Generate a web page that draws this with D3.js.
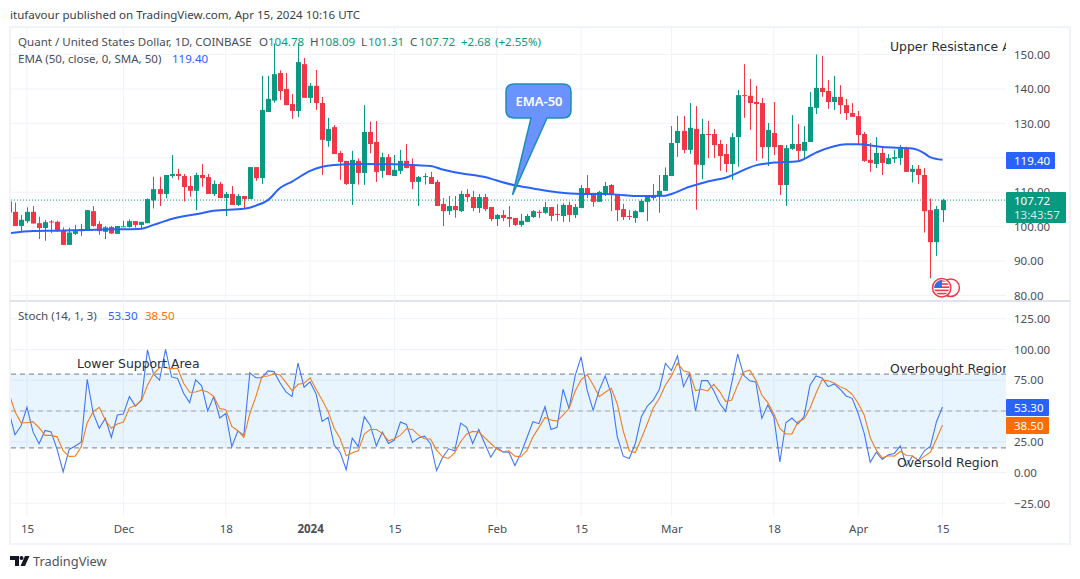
<!DOCTYPE html>
<html>
<head>
<meta charset="utf-8">
<script src="https://cdn.jsdelivr.net/npm/d3@7"></script>
<style>
  html, body { margin: 0; padding: 0; background: #fff; }
  svg { display: block; }
  text { font-family: "Noto Sans", sans-serif; }
  text.anno { font-family: "DejaVu Sans", sans-serif; }
</style>
</head>
<body>
<svg id="chart" width="1080" height="579"></svg>
<script>
// open, high, low, close, one row per day from 12 Nov 2023
const candles = [
  // Nov
  [107.3,108,103,104.1],[104.3,107,100.2,100.2],[100.2,103.4,98.4,102],[101.6,105.6,101,104.3],[104.3,106,100.9,100.9],
  [101,102.9,96.4,99.6],[99.6,101.9,95.9,101.3],[101.5,101.9,98.1,101.3],[101.4,101.7,98.5,98.7],[99,99.8,94.7,94.7],
  [94.7,99.7,94.7,98.3],[97.9,100.5,97.6,98.7],[98.7,100.8,97.3,99.3],[98.8,104.8,98.8,104.8],[104.5,106,100,100.2],
  [100.8,101.6,97.6,98.7],[98.5,100.2,96.4,99.8],[99.9,100.2,97.9,98],[97.9,100.2,97.9,100.2],
  // Dec
  [100,101.7,100,100.1],[99.9,102.1,99.7,101.6],[101.6,101.6,99.7,100.5],[100.5,101.4,99.2,101.4],[101,108.2,101,108],
  [107.6,114.5,105.3,110.9],[110.9,114.5,106,109.5],[109.5,115,108.2,115],[114.7,120.8,114.1,115.3],[115.3,116.8,113.6,114.7],
  [114.7,115.3,107.3,111.5],[111.8,114.7,108.7,110.4],[110.4,115.7,104.8,115],[115,118.2,111.6,114.1],[114.4,115.3,109.5,109.5],
  [109.5,113.4,108.9,112.4],[112.4,113,108.3,108.3],[108.3,110.1,103.1,109.5],[109.5,111.8,106.3,106.3],[106.3,109.5,106,108.9],
  [108.9,108.9,105.2,108],[108,117.3,108,117.3],[117.3,117.3,113.3,114.1],[114.1,143.8,112.4,133.9],[133.3,143.8,133.3,137.1],
  [136.6,153.2,136,144.3],[144.6,145.4,136.8,139.4],[140,144.6,135.3,135.3],[135.6,138.5,131.3,133.6],[133.6,153.2,131.8,147.8],
  [147.2,149,137.4,137.4],
  // Jan
  [137.4,141.7,135.9,140.9],[140.9,145.5,133.9,135.9],[135.9,137.7,115,125.2],[124.9,131.6,123.2,128.4],[128.9,129.5,121.1,121.1],
  [121.4,122,113.6,118.8],[119.1,119.1,112.1,112.4],[112.4,122,106.3,119.4],[119.1,119.8,112.2,115.6],[115.6,135.3,112.1,127.5],
  [127.5,130.5,121.3,124],[124.6,130.7,113,115.9],[116.2,121.5,114.2,120.2],[120.2,121.1,115,115],[114.7,120.8,114.7,116.5],
  [116.2,122.3,115.3,119.1],[119.1,124,117,117],[117.8,119.8,110.9,113],[113,114.7,106,114.4],[114.5,115.5,112.2,114.7],
  [114.4,115.9,112.4,112.4],[113,113.6,106,106],[106.6,108.3,100.2,104.5],[104.5,108.9,103.4,106],[106,108.9,102.6,104.8],
  [104.5,110.4,104.2,109.5],[109.5,110.9,107.2,108.6],[108.6,110.4,104.5,105.4],[105.4,109.5,104,108.6],[108.6,109.5,104.5,105.1],
  [105.7,105.7,101.6,102.2],
  // Feb
  [102.2,103.7,100.2,103.4],[103.4,104.8,101.6,102.5],[102.8,106,99.9,102.2],[102.5,102.5,100.2,100.5],[100.5,103.7,99.9,101.7],
  [101.4,103.7,101.3,103.1],[102.8,104.8,102.5,104.5],[104.3,104.8,102.5,104.1],[104,107.2,103.7,105.7],[105.7,105.7,101.6,103.1],
  [103.7,106.5,101.6,103.5],[103.1,106.8,101.4,106.3],[106.3,107.2,101.4,103.4],[103.4,106.6,102.5,105.7],[105.4,112.1,105.4,111.2],
  [111.2,115,108.3,109.5],[109.8,109.8,105.8,107.2],[107.2,110.4,107.2,110.1],[109.5,113,108.9,111.8],[112.1,112.4,104.5,109.2],
  [109.5,109.5,101.6,104.8],[105.1,106.6,101.9,102.8],[103.1,104.8,101.9,102.9],[102.5,104.8,101.1,104.5],[104.2,108,104.2,107.5],
  [107.2,109.2,101.6,108.6],[108.3,112.4,107.7,109.2],[108.9,115,104,110.4],[110.4,117.2,110.4,115],
  // Mar
  [114.7,129.2,114.7,124.3],[124.3,132.2,120.3,127.8],[127.8,132.2,121.3,122.3],[122.3,135.9,121.1,128.7],[128.4,135,104.9,118],
  [117.9,131.3,113.8,126.9],[126.9,130.7,119.9,126.6],[126.9,128.3,119.9,123.7],[124,125.2,116.2,120.5],[121.1,124,115.8,118.2],
  [118.2,127.2,113.6,126],[126,139.7,117.4,138.2],[138.2,147.2,131.6,138],[138,142.9,128.1,135.9],[136.2,140.9,119.1,135.6],
  [135.9,137.4,119.8,123.1],[123.1,130.1,117.6,128.1],[127.2,136.2,120.8,123.1],[123.7,123.7,109.2,112.1],[112.1,123.7,106,122.8],
  [122.6,132.4,122.3,124],[124,129.8,119.1,122],[122,129.2,119.9,124.6],[124.6,139.1,124.6,134.8],[134.5,150,132.7,140.3],
  [140.3,149.6,137.7,139.1],[139.4,142.6,134.2,136.2],[136.2,143.8,133.9,137.7],[137.7,141.1,132.7,135.3],[135.3,137.1,131,133],
  [133,135.9,131.9,131.9],
  // Apr
  [132.1,133.6,123.7,126.6],[126.9,127.5,118.8,119.1],[119.4,124.3,115.9,118.5],[118.2,126,117,121.4],[121.4,123.4,115,118.5],
  [118.2,121.1,118.1,119.9],[119.7,122.3,118.5,120.2],[119.9,123.7,117.9,122.6],[122.8,123.2,115.9,115.9],[115.9,117.9,112.8,116.8],
  [116.8,117.9,112.4,115],[115,117,98.3,104.5],[104.8,108.2,85,95.5],[95.5,106,91.5,105.1],[104.78,108.09,101.31,107.72]
]

const stochK = [
  49.5,30.7,37.8,53,33,23.4,34.2,33,18.8,0.5,18.8,21.5,24.7,75.8,48,36,44,28.5,46.7,
  47.5,61.7,54,59,99.7,80,75,100,77.7,76.4,64.4,56.8,75.3,70.4,50,61.7,44.3,48,21,33.7,30.4,81,77,77,82.6,82,73,65.5,61.7,88.9,69.3,
  73.6,63.9,41.6,44.8,22.3,16.3,2.4,28,21,45.4,38.3,21.7,32.9,23.6,26.4,41,39.1,24.5,28,29.6,23.4,1.6,12.2,19.3,17.7,40.2,36.7,23.6,35,23.6,12.5,
  20.4,16.8,16.6,5.7,15.5,28.3,41.3,39.7,53.5,35,36.7,67.7,52,78.5,94,67,50.5,67,78.5,63.9,29,13.3,11.4,23.6,45.4,54,59,67.7,88.6,
  82.9,94.8,69.8,80,50,74.7,74.7,66.6,56.3,49.7,72.6,96.2,79,74.5,73.6,44,54.9,45.4,8.7,40.5,44.3,39.4,45.4,70.9,78.5,76.9,69.8,72,67.7,62.2,60.3,
  48,31.8,8.4,16.6,10.6,14.4,15.5,21.7,5.4,13.3,10,17.7,21.5,41.3,53.3
]
const stochD = [
  64.4,49.5,40.5,40.5,41.3,36.4,30.2,30.2,29,17.7,13,13.3,21,40.5,49.5,53,42.7,36,39.4,
  41,52.4,54.6,58.4,71,80,85.3,85.3,84.2,84.8,72.5,65.2,65.5,67,65.5,61.7,52,51,37.5,34,28.5,48,61.7,78,78.5,80.4,79.3,73,66.6,71.7,72.5,
  77,67.7,59,49.5,36,27.4,13.6,16,17.7,31.3,35,35,31.8,25.8,27.4,30.4,35.6,35,30.4,27.4,27.2,18.2,12.8,11.4,16,25,31.3,33.4,32.9,28.3,23.6,
  19,16.8,17.7,13.3,12.8,17.7,29,36.7,44.8,42.7,41.8,46.7,52,66,75.3,79.6,71.2,61.7,65.2,68.5,55.7,33.7,17.7,16.3,27.7,39.9,52.7,60.3,71.2,
  78.5,88.9,82.6,81.3,66.6,67.7,66.3,71.7,65.8,57.6,59,71.2,81.8,83.2,75.3,63,56.8,47.6,35.9,31.3,31.3,41.3,43.5,52.2,64.4,75.3,74.5,72.8,69.8,67.7,63.6,
  56.3,46.7,28.5,18.2,12,13.6,13.3,17.1,13.9,13.6,9.5,13.3,16.6,27.2,38.5
]

// EMA 50, read at the points where the line bends
const ema = [
  ['2023-11-12',98.07],['2023-11-16',98.74],['2023-11-20',98.84],['2023-11-25',99.03],['2023-11-30',99.23],['2023-12-04',99.42],
  ['2023-12-06',100.5],['2023-12-09',102.2],['2023-12-14',103.9],['2023-12-16',104.6],['2023-12-21',105.2],['2023-12-23',106.1],
  ['2023-12-25',107.7],['2023-12-27',111.2],['2023-12-29',113.1],['2024-01-01',116.2],['2024-01-03',117.4],['2024-01-05',117.9],
  ['2024-01-09',118.2],['2024-01-15',118.1],['2024-01-18',117.9],['2024-01-21',117.6],['2024-01-23',116.6],['2024-01-26',115.5],
  ['2024-01-30',114.4],['2024-02-01',113.4],['2024-02-04',112],['2024-02-07',111.1],['2024-02-11',110],['2024-02-15',109.5],
  ['2024-02-19',109.5],['2024-02-21',109.3],['2024-02-24',108.9],['2024-02-29',109],['2024-03-01',109.5],['2024-03-04',111.6],
  ['2024-03-05',112.1],['2024-03-07',113.1],['2024-03-10',114.2],['2024-03-15',117.8],['2024-03-18',118.6],['2024-03-22',119],
  ['2024-03-25',121.5],['2024-03-30',123.9],['2024-04-01',123.9],['2024-04-05',123.1],['2024-04-10',122.7],['2024-04-12',121.3],
  ['2024-04-13',120.1],['2024-04-15',119.4]
]

const UP = '#089981', DOWN = '#F23645', BLUE = '#2962FF', ORANGE = '#FF6D00'
const GRID = '#f0f3fa', LABEL = '#4a4e5a', ANNO = '#2a2e39'
const fontSize = 11.55
const axisX = 1006
const parseDay = d3.utcParse('%Y-%m-%d')
const days = d3.utcDay.range(parseDay('2023-11-12'), parseDay('2024-04-16'))

const x = d3.scaleUtc().domain([parseDay('2023-11-15'), parseDay('2024-04-15')]).range([27, 942.5])
const yPrice = d3.scaleLinear().domain([80, 150]).range([295.5, 54.5])
const yStoch = d3.scaleLinear().domain([-25, 125]).range([503.3, 318.7])
// candles sit on whole pixels so the wicks stay sharp
const xBar = i => Math.round(x(days[i])) + 0.5

const svg = d3.select('#chart')
const defs = svg.append('defs')
defs.append('clipPath').attr('id', 'paneTop').append('rect').attr('x', 11).attr('y', 28).attr('width', axisX - 11).attr('height', 272)
defs.append('clipPath').attr('id', 'paneBottom').append('rect').attr('x', 11).attr('y', 302).attr('width', axisX - 11).attr('height', 215)
defs.append('clipPath').attr('id', 'flagClip').append('circle').attr('cx', 941.7).attr('cy', 287.7).attr('r', 7.5)

// frame and pane separator
svg.append('rect').attr('x', 10).attr('y', 27).attr('width', 1060).attr('height', 517)
  .attr('fill', 'none').attr('stroke', GRID).attr('stroke-width', 2)
svg.append('line').attr('x1', 10).attr('x2', 1070).attr('y1', 301).attr('y2', 301)
  .attr('stroke', '#e0e3eb').attr('stroke-width', 2)

// time grid + axis
const timeTicks = [
  ['2023-11-15','15'],['2023-12-01','Dec'],['2023-12-18','18'],['2024-01-01','2024'],['2024-01-15','15'],['2024-02-01','Feb'],
  ['2024-02-15','15'],['2024-03-01','Mar'],['2024-03-18','18'],['2024-04-01','Apr'],['2024-04-15','15']
]
const tickNames = new Map(timeTicks.map(d => [+parseDay(d[0]), d[1]]))
const xAxis = d3.axisBottom(x)
  .tickValues(timeTicks.map(d => parseDay(d[0])))
  .tickSize(0)
  .tickPadding(8)
  .tickFormat(d => tickNames.get(+d))
const gx = svg.append('g').attr('transform', 'translate(0, 517)').call(xAxis)
gx.select('.domain').remove()
gx.selectAll('text').attr('font-size', fontSize).attr('fill', LABEL)
  .attr('font-weight', d => tickNames.get(+d) === '2024' ? 'bold' : null)

svg.append('g').selectAll('line').data(timeTicks).join('line')
  .attr('x1', d => x(parseDay(d[0]))).attr('x2', d => x(parseDay(d[0])))
  .attr('y1', 28).attr('y2', 517)
  .attr('stroke', GRID)

// price pane, 120 sits under the EMA tag so it gets no label
const priceTicks = d3.range(80, 151, 10)
svg.append('g').selectAll('line').data(priceTicks).join('line')
  .attr('x1', 11).attr('x2', axisX).attr('y1', d => yPrice(d)).attr('y2', d => yPrice(d))
  .attr('stroke', GRID)

const yAxisPrice = d3.axisRight(yPrice).tickValues(priceTicks.filter(d => d !== 120)).tickSize(0).tickPadding(8).tickFormat(d3.format('.2f'))
const gp = svg.append('g').attr('transform', `translate(${axisX}, 0)`).call(yAxisPrice)
gp.select('.domain').remove()
gp.selectAll('text').attr('font-size', fontSize).attr('fill', LABEL)

const topPane = svg.append('g').attr('clip-path', 'url(#paneTop)')

// last price line
topPane.append('line').attr('x1', 11).attr('x2', axisX)
  .attr('y1', yPrice(107.72)).attr('y2', yPrice(107.72))
  .attr('stroke', UP).attr('stroke-dasharray', '1 2')

const bars = topPane.append('g').selectAll('g').data(candles).join('g')
bars.append('line')
  .attr('x1', (d, i) => xBar(i)).attr('x2', (d, i) => xBar(i))
  .attr('y1', d => yPrice(d[1])).attr('y2', d => yPrice(d[2]))
  .attr('stroke', d => d[3] >= d[0] ? UP : DOWN)
bars.append('rect')
  .attr('x', (d, i) => xBar(i) - 2.5)
  .attr('width', 5)
  .attr('y', d => yPrice(Math.max(d[0], d[3])))
  .attr('height', d => Math.max(1, Math.abs(yPrice(d[0]) - yPrice(d[3]))))
  .attr('fill', d => d[3] >= d[0] ? UP : DOWN)

const emaLine = d3.line().x(d => x(parseDay(d[0]))).y(d => yPrice(d[1])).curve(d3.curveMonotoneX)
topPane.append('path').datum(ema).attr('fill', 'none').attr('stroke', BLUE).attr('stroke-width', 2).attr('d', emaLine)

// callout
svg.append('path')
  .attr('d', 'M514 84H563Q571 84 571 92V110Q571 118 563 118H547L512.5 195L531 118H514Q506 118 506 110V92Q506 84 514 84Z')
  .attr('fill', '#6b93ff').attr('stroke', '#1a8fb5').attr('stroke-width', 1.5)
svg.append('text').attr('x', 539).attr('y', 106).attr('text-anchor', 'middle')
  .attr('font-size', 13).attr('font-weight', 600).attr('fill', '#fff').text('EMA-50')

// flag icon from the events row
svg.append('circle').attr('cx', 950.7).attr('cy', 287.7).attr('r', 8.7).attr('fill', '#fff').attr('stroke', DOWN).attr('stroke-width', 1.5)
svg.append('circle').attr('cx', 941.7).attr('cy', 287.7).attr('r', 9.2).attr('fill', '#fff').attr('stroke', DOWN).attr('stroke-width', 1.5)
const flag = svg.append('g').attr('clip-path', 'url(#flagClip)')
d3.range(5).forEach(i => {
  flag.append('rect').attr('x', 933).attr('y', 280 + i * 3.2).attr('width', 18).attr('height', 1.6).attr('fill', DOWN)
})
flag.append('rect').attr('x', 933).attr('y', 280).attr('width', 9).attr('height', 8).attr('fill', '#2f6fe0')

// stochastic pane, 50 sits under the %K tag
const stochTicks = [-25, 0, 25, 50, 75, 100, 125]
svg.append('g').selectAll('line').data(stochTicks).join('line')
  .attr('x1', 11).attr('x2', axisX).attr('y1', d => yStoch(d)).attr('y2', d => yStoch(d))
  .attr('stroke', GRID)
const yAxisStoch = d3.axisRight(yStoch).tickValues(stochTicks.filter(d => d !== 50)).tickSize(0).tickPadding(8)
  .tickFormat(d => d3.format('.2f')(d).replace('-', '\u2212'))
const gs = svg.append('g').attr('transform', `translate(${axisX}, 0)`).call(yAxisStoch)
gs.select('.domain').remove()
gs.selectAll('text').attr('font-size', fontSize).attr('fill', LABEL)

const stochPane = svg.append('g').attr('clip-path', 'url(#paneBottom)')
stochPane.append('rect').attr('x', 11).attr('width', axisX - 11)
  .attr('y', yStoch(80)).attr('height', yStoch(20) - yStoch(80))
  .attr('fill', '#2196f3').attr('fill-opacity', 0.1)
;[[80, '#787b86'], [50, '#a3a6af'], [20, '#787b86']].forEach(([v, c]) => {
  stochPane.append('line').attr('x1', 11).attr('x2', axisX)
    .attr('y1', yStoch(v)).attr('y2', yStoch(v))
    .attr('stroke', c).attr('stroke-dasharray', '5 4')
})
const stochLine = d3.line().x((d, i) => x(days[i])).y(d => yStoch(d))
stochPane.append('path').datum(stochK).attr('fill', 'none').attr('stroke', '#4178f5').attr('stroke-width', 1.1).attr('d', stochLine)
stochPane.append('path').datum(stochD).attr('fill', 'none').attr('stroke', '#f57c20').attr('stroke-width', 1.1).attr('d', stochLine)

// text drawn on the chart
const annoTop = svg.append('g').attr('clip-path', 'url(#paneTop)')
const annoBottom = svg.append('g').attr('clip-path', 'url(#paneBottom)')
function anno(g, tx, ty, s) {
  g.append('text').attr('class', 'anno').attr('x', tx).attr('y', ty).attr('font-size', 12.4).attr('fill', ANNO).text(s)
}
anno(annoTop, 890, 51, 'Upper Resistance Area')
anno(annoBottom, 77, 368, 'Lower Support Area')
anno(annoBottom, 890, 373, 'Overbought Region')
anno(annoBottom, 897, 467, 'Oversold Region')

// price tags on the axis
function tag(ty, h, w, color) {
  svg.append('rect').attr('x', axisX).attr('y', ty).attr('width', w).attr('height', h).attr('rx', 1).attr('fill', color)
}
function tagText(ty, s, fill) {
  svg.append('text').attr('x', 1014).attr('y', ty).attr('font-size', fontSize).attr('fill', fill).text(s)
}
tag(152, 17, 49, BLUE); tagText(164.5, '119.40', '#fff')
tag(192, 31, 60, UP); tagText(204.5, '107.72', '#fff'); tagText(219, '13:43:57', '#cfeee6')
tag(399, 17, 43, BLUE); tagText(411.5, '53.30', '#fff')
tag(417, 17, 43, ORANGE); tagText(429.5, '38.50', '#fff')

// legend rows
function legend(ty, parts) {
  const t = svg.append('text').attr('y', ty).attr('font-size', fontSize)
  parts.forEach(([s, c, px]) => {
    const span = t.append('tspan').attr('fill', c).text(s)
    if (px !== undefined) span.attr('x', px)
  })
}
legend(46, [['Quant / United States Dollar, 1D, COINBASE', LABEL, 18], ['O', LABEL, 259], ['104.78', UP, 268],
  ['H', LABEL, 310], ['108.09', UP, 319], ['L', LABEL, 361], ['101.31', UP, 368], ['C', LABEL, 410], ['107.72', UP, 419],
  ['+2.68', UP, 461], ['(+2.55%)', UP, 495]])
legend(63, [['EMA (50, close, 0, SMA, 50)', LABEL, 18], ['119.40', BLUE, 172]])
legend(320, [['Stoch (14, 1, 3)', LABEL, 18], ['53.30', BLUE, 108], ['38.50', ORANGE, 145]])

// page header and footer
svg.append('text').attr('x', 10).attr('y', 19).attr('font-size', fontSize).attr('fill', '#3a3e4a')
  .text('itufavour published on TradingView.com, Apr 15, 2024 10:16 UTC')
svg.append('path').attr('fill', '#131722')
  .attr('d', 'M10 556H19V566H15V560H10ZM29.5 556L25 566H20.5L25 556Z')
svg.append('circle').attr('cx', 21.5).attr('cy', 558).attr('r', 2).attr('fill', '#131722')
svg.append('text').attr('x', 33).attr('y', 566).attr('font-size', 12.8).attr('fill', '#50535e').text('TradingView')
</script>
</body>
</html>
